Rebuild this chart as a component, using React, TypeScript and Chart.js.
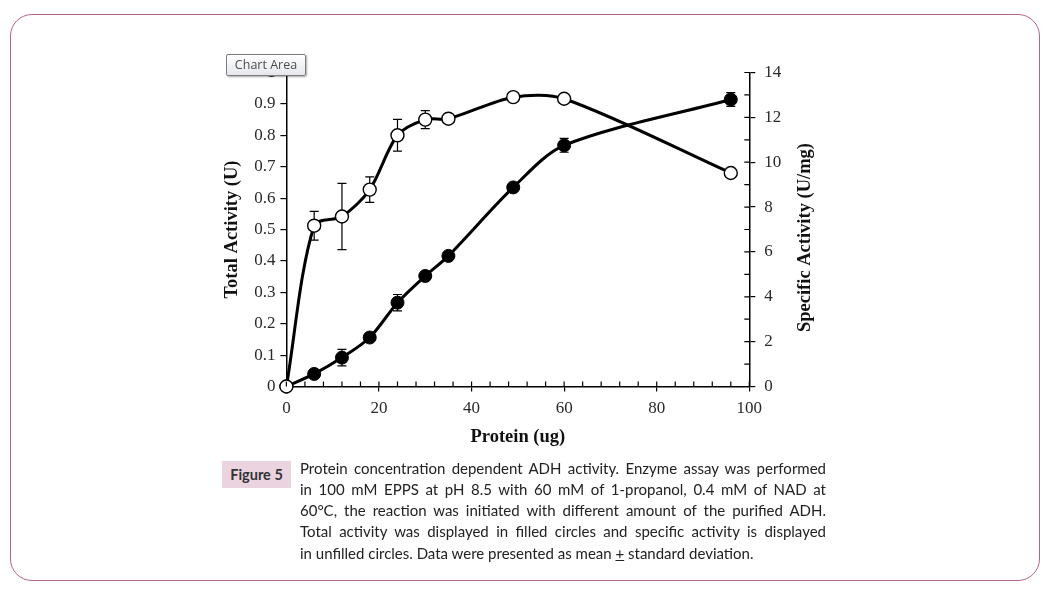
import React, { useEffect, useRef } from "react";
import { Chart, registerables } from "chart.js";

Chart.register(...registerables);

// ---------- data ----------
const proteinUg = [0, 6, 12, 18, 24, 30, 35, 49, 60, 96];
const totalActivity = [0, 0.04, 0.092, 0.156, 0.267, 0.352, 0.416, 0.634, 0.768, 0.914];
const totalActivityErr = [0, 0, 0.026, 0, 0.026, 0, 0, 0, 0.022, 0.022];
const specificActivity = [0, 7.17, 7.58, 8.78, 11.2, 11.9, 11.94, 12.9, 12.83, 9.52];
const specificActivityErr = [0, 0.64, 1.48, 0.57, 0.71, 0.4, 0, 0, 0, 0];

const xInnerTicks = [0, 4, 8, 12, 16, 20, 24, 28, 32, 36, 40, 44, 48, 52, 56, 60, 64, 68, 72, 76, 80, 84, 88, 92, 96, 100];
const y2InnerTicks = [0, 1, 2, 3, 4, 5, 6, 7, 8, 9, 10, 11, 12, 13, 14];

const xTitle = "Protein (ug)";
const yTitle = "Total Activity (U)";
const y2Title = "Specific Activity (U/mg)";

const captionLines = [
  "Protein concentration dependent ADH activity. Enzyme assay was performed",
  "in 100 mM EPPS at pH 8.5 with 60 mM of 1-propanol, 0.4 mM of NAD at",
  "60°C, the reaction was initiated with different amount of the purified ADH.",
  "Total activity was displayed in filled circles and specific activity is displayed",
];

const TICK_FONT = { family: "'Liberation Serif', serif", size: 17 };
const TITLE_FONT = { family: "'Liberation Serif', serif", size: 18.5, weight: "bold" as const };

const errorBarPlugin = {
  id: "errorBars",
  beforeDatasetsDraw(chart: any) {
    const ctx = chart.ctx;
    const xs = chart.scales.x;
    chart.data.datasets.forEach((ds: any) => {
      const errs: number[] | undefined = ds.errors;
      if (!errs) return;
      const ys = chart.scales[ds.yAxisID];
      ctx.save();
      ctx.strokeStyle = "#000";
      ctx.lineWidth = 1.2;
      ctx.beginPath();
      ds.data.forEach((p: any, j: number) => {
        const e = errs[j];
        if (!e) return;
        const px = xs.getPixelForValue(p.x);
        const top = ys.getPixelForValue(p.y + e);
        const bot = ys.getPixelForValue(p.y - e);
        ctx.moveTo(px, top);
        ctx.lineTo(px, bot);
        ctx.moveTo(px - 4.5, top);
        ctx.lineTo(px + 4.5, top);
        ctx.moveTo(px - 4.5, bot);
        ctx.lineTo(px + 4.5, bot);
      });
      ctx.stroke();
      ctx.restore();
    });
  },
};

const innerTicksPlugin = {
  id: "innerTicks",
  afterDraw(chart: any) {
    const { ctx, chartArea } = chart;
    const xs = chart.scales.x;
    const y2 = chart.scales.y2;
    ctx.save();
    ctx.strokeStyle = "#000";
    ctx.lineWidth = 1.2;
    ctx.beginPath();
    xInnerTicks.forEach((v) => {
      const px = xs.getPixelForValue(v);
      ctx.moveTo(px, chartArea.bottom);
      ctx.lineTo(px, chartArea.bottom - 5);
    });
    y2InnerTicks.forEach((v) => {
      const py = y2.getPixelForValue(v);
      ctx.moveTo(chartArea.right, py);
      ctx.lineTo(chartArea.right - 5, py);
    });
    ctx.stroke();
    // right axis title, reading bottom to top
    ctx.translate(chartArea.right + 56, (chartArea.top + chartArea.bottom) / 2 + 8);
    ctx.rotate(-Math.PI / 2);
    ctx.font = `bold ${TITLE_FONT.size}px ${TITLE_FONT.family}`;
    ctx.fillStyle = "#111";
    ctx.textAlign = "center";
    ctx.textBaseline = "middle";
    ctx.fillText(y2Title, 0, 0);
    ctx.restore();
  },
};

function ProteinChart() {
  const ref = useRef<HTMLCanvasElement | null>(null);
  useEffect(() => {
    if (!ref.current) return;
    const chart = new Chart(ref.current, {
      type: "line",
      data: {
        datasets: [
          {
            label: "Specific Activity",
            data: proteinUg.map((x, i) => ({ x, y: specificActivity[i] })),
            yAxisID: "y2",
            borderColor: "#000",
            borderWidth: 3,
            tension: 0.3,
            clip: false,
            pointRadius: 6.5,
            pointBackgroundColor: "#fff",
            pointBorderColor: "#000",
            pointBorderWidth: 1.4,
            errors: specificActivityErr,
          } as any,
          {
            label: "Total Activity",
            data: proteinUg.map((x, i) => ({ x, y: totalActivity[i] })),
            yAxisID: "y",
            borderColor: "#000",
            borderWidth: 3,
            tension: 0.3,
            clip: false,
            pointRadius: 6.5,
            pointBackgroundColor: "#000",
            pointBorderColor: "#000",
            pointBorderWidth: 1,
            errors: totalActivityErr,
          } as any,
        ],
      },
      options: {
        animation: false,
        responsive: false,
        layout: { padding: { top: 32.5, left: 0, right: 0, bottom: 0 } },
        plugins: { legend: { display: false }, tooltip: { enabled: false } },
        scales: {
          x: {
            type: "linear",
            min: 0,
            max: 100,
            afterFit: (s: any) => {
              s.height = 73.5;
            },
            ticks: { stepSize: 20, font: TICK_FONT, color: "#2a2a2a", padding: 7 },
            grid: { drawOnChartArea: false, tickLength: 5, color: "#000", lineWidth: 1.2 },
            border: { color: "#000", width: 1.5 },
            title: { display: true, text: xTitle, font: TITLE_FONT, color: "#111", padding: { top: 0, bottom: 12 } },
          },
          y: {
            type: "linear",
            position: "left",
            min: 0,
            max: 1,
            afterFit: (s: any) => {
              s.width = 86.4;
            },
            ticks: {
              stepSize: 0.1,
              font: TICK_FONT,
              color: "#2a2a2a",
              padding: 5,
              callback: (v: any) => String(Number(Number(v).toFixed(1))),
            },
            grid: { drawOnChartArea: false, tickLength: 6, color: "#000", lineWidth: 1.2 },
            border: { color: "#000", width: 1.5 },
            title: { display: true, text: yTitle, font: TITLE_FONT, color: "#111", padding: { top: 21, bottom: 0 } },
          },
          y2: {
            type: "linear",
            position: "right",
            min: 0,
            max: 14,
            afterFit: (s: any) => {
              s.width = 110.7;
            },
            ticks: { stepSize: 2, font: TICK_FONT, color: "#2a2a2a", padding: 9 },
            grid: { drawOnChartArea: false, tickLength: 6, color: "#000", lineWidth: 1.2 },
            border: { color: "#000", width: 1.5 },
          },
        },
      } as any,
      plugins: [errorBarPlugin, innerTicksPlugin],
    });
    return () => chart.destroy();
  }, []);
  return (
    <canvas
      ref={ref}
      width={660}
      height={420}
      style={{ position: "absolute", left: 200, top: 40, width: 660, height: 420 }}
    />
  );
}

export default function App() {
  const lineStyle: React.CSSProperties = {
    height: 21.3,
    lineHeight: "21.3px",
    textAlign: "justify",
    textAlignLast: "justify" as any,
    whiteSpace: "nowrap",
    overflow: "visible",
  };
  return (
    <div
      style={{
        position: "fixed",
        left: 0,
        top: 0,
        width: 1051,
        height: 597,
        background: "#fff",
        overflow: "hidden",
      }}
    >
      <div
        style={{
          position: "absolute",
          left: 10,
          top: 14,
          width: 1030,
          height: 567,
          border: "1.5px solid #b0648e",
          borderRadius: 22,
          boxSizing: "border-box",
        }}
      />
      <ProteinChart />
      <div
        style={{
          position: "absolute",
          left: 226,
          top: 54,
          width: 80,
          height: 22,
          boxSizing: "border-box",
          border: "1px solid #7d7d7d",
          borderRadius: 2,
          background: "linear-gradient(#ffffff, #e6e7ee)",
          boxShadow: "1px 1px 2px rgba(0,0,0,0.35)",
          fontFamily: "'Open Sans', sans-serif",
          fontSize: 12.5,
          color: "#4d4d4d",
          textAlign: "center",
          lineHeight: "20px",
        }}
      >
        Chart Area
      </div>
      <div
        style={{
          position: "absolute",
          left: 222,
          top: 461,
          width: 69,
          height: 27,
          background: "#ebd3e0",
          fontFamily: "Lato, sans-serif",
          fontWeight: 700,
          fontSize: 14.5,
          color: "#333",
          lineHeight: "27px",
          textAlign: "center",
        }}
      >
        Figure 5
      </div>
      <div
        style={{
          position: "absolute",
          left: 300,
          top: 457.5,
          width: 526,
          fontFamily: "Lato, sans-serif",
          fontSize: 15,
          color: "#222",
        }}
      >
        {captionLines.map((l, i) => (
          <div key={i} style={lineStyle}>
            {l}
          </div>
        ))}
        <div style={{ height: 21.3, lineHeight: "21.3px", whiteSpace: "nowrap" }}>
          in unfilled circles. Data were presented as mean <u>+</u> standard deviation.
        </div>
      </div>
    </div>
  );
}
